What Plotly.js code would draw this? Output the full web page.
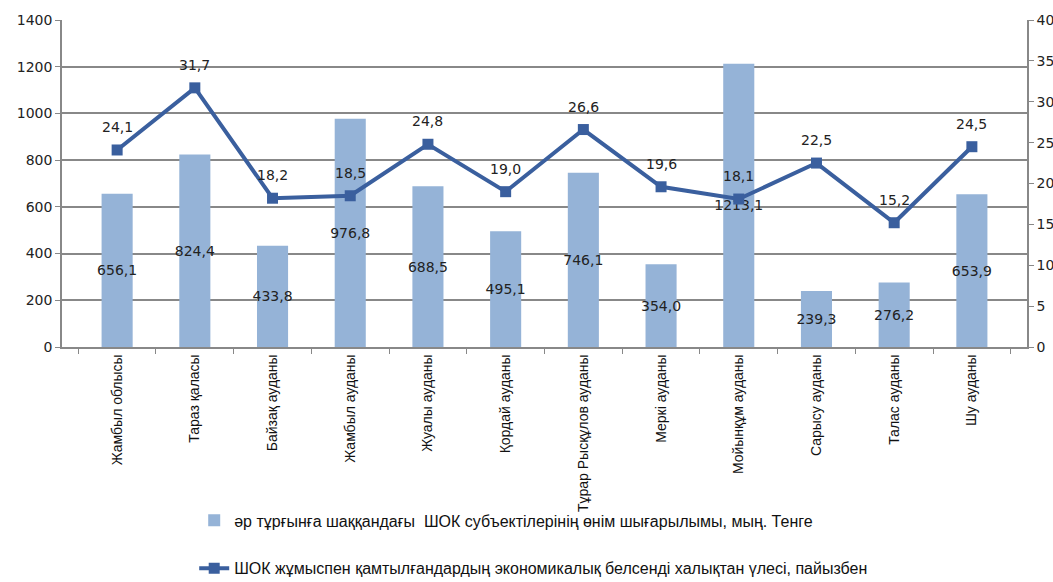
<!DOCTYPE html>
<html><head><meta charset="utf-8">
<script src="https://cdn.plot.ly/plotly-3.0.1.min.js"></script>
<style>html,body{margin:0;padding:0;background:#fff}#c{width:1053px;height:582px}</style>
</head><body><div id="c"></div>
<script>
const categories = ['Жамбыл облысы','Тараз қаласы','Байзақ ауданы','Жамбыл ауданы','Жуалы ауданы','Қордай ауданы','Тұрар Рысқұлов ауданы','Меркі ауданы','Мойынқұм ауданы','Сарысу ауданы','Талас ауданы','Шу ауданы'];
const outputPerCapita = [656.1,824.4,433.8,976.8,688.5,495.1,746.1,354.0,1213.1,239.3,276.2,653.9];
const employmentShare = [24.1,31.7,18.2,18.5,24.8,19.0,26.6,19.6,18.1,22.5,15.2,24.5];
const barName = 'әр тұрғынға шаққандағы  ШОК субъектілерінің өнім шығарылымы, мың. Тенге';
const lineName = 'ШОК жұмыспен қамтылғандардың экономикалық белсенді халықтан үлесі, пайызбен';
const fmt = v => v.toFixed(1).replace('.', ',');
const labelFont = {family:'DejaVu Sans, Verdana', size:14, color:'#222'};

const traces = [
  {type:'bar', x:categories, y:outputPerCapita, name:barName, legendgroup:'a',
   marker:{color:'#95B3D7'}, text:outputPerCapita.map(fmt), textposition:'inside',
   insidetextanchor:'middle', textangle:0, constraintext:'none',
   textfont:labelFont, cliponaxis:false},
  {type:'scatter', mode:'lines+markers', x:categories, y:employmentShare, yaxis:'y2',
   name:lineName, legendgroup:'b',
   line:{color:'#3A5F9E', width:4}, marker:{symbol:'square', size:11, color:'#3A5F9E'},
   cliponaxis:false}
];
const annotations = categories.map((c, i) => ({
  x:c, y:employmentShare[i], xref:'x', yref:'y2', text:fmt(employmentShare[i]),
  showarrow:false, yshift:23, font:labelFont
}));
const layout = {
  width:1053, height:582, margin:{l:62, r:26, t:20, b:235},
  paper_bgcolor:'#fff', plot_bgcolor:'#fff', bargap:0.6, showlegend:true,
  font:{family:'Liberation Sans, Arial', color:'#222'},
  annotations:annotations,
  xaxis:{type:'category', tickangle:-90, automargin:false,
    tickfont:{family:'Liberation Sans, Arial', size:14, color:'#111'},
    showline:true, linecolor:'#888', linewidth:1.5, ticks:'outside', tickson:'boundaries',
    ticklen:5, tickcolor:'#888', showgrid:false, mirror:false},
  yaxis:{range:[0,1400], dtick:200, showgrid:true, gridcolor:'#888', gridwidth:1.5, automargin:false,
    showline:true, linecolor:'#888', linewidth:1.5, ticks:'outside', ticklen:5, tickcolor:'#888',
    tickfont:labelFont, zeroline:false},
  yaxis2:{range:[0,40], dtick:5, overlaying:'y', side:'right', showgrid:false, automargin:false,
    showline:true, linecolor:'#888', linewidth:1.5, ticks:'outside', ticklen:5, tickcolor:'#888',
    tickfont:labelFont, zeroline:false},
  legend:{orientation:'v', x:0.137, xanchor:'left', xref:'paper', y:0.135, yanchor:'top', yref:'container',
    traceorder:'grouped', tracegroupgap:24, font:{family:'Liberation Sans, Arial', size:16, color:'#111'},
    bgcolor:'rgba(0,0,0,0)'}
};
Plotly.newPlot('c', traces, layout, {displayModeBar:false});
</script></body></html>
